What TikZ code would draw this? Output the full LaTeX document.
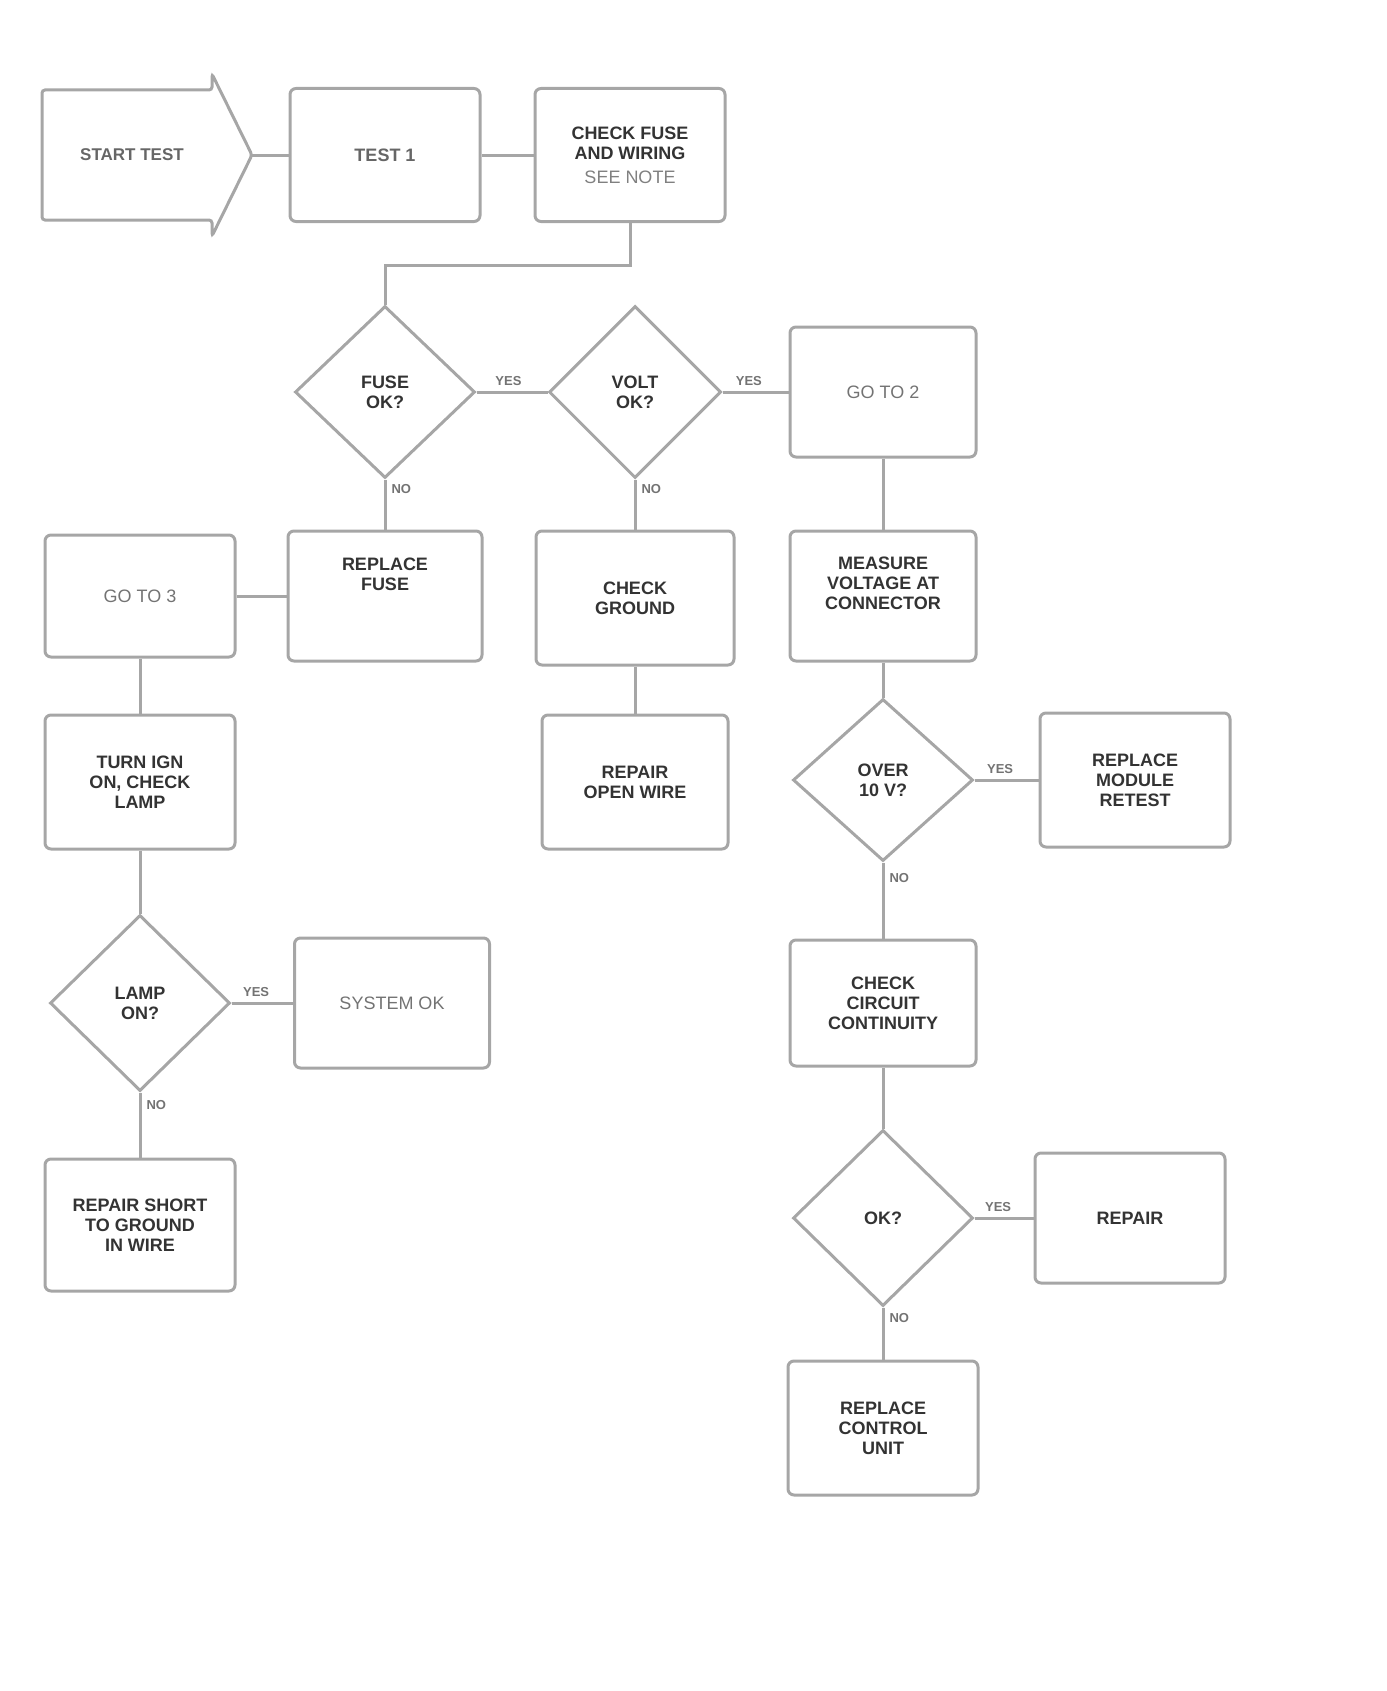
\documentclass[tikz,border=0pt]{standalone}
\usepackage{fontspec}
\setmainfont{Liberation Sans}
\usetikzlibrary{shapes.geometric}
\tikzset{
  flowbox/.style={draw=black!35, line width=3pt, rounded corners=6pt, align=center,
    inner sep=4pt, text=black!80, font=\fontsize{18}{20}\selectfont\bfseries},
  flowdia/.style={draw=black!35, line width=3pt, diamond, align=center, inner sep=0pt,
    text=black!80, font=\fontsize{18}{20}\selectfont\bfseries},
  flowline/.style={draw=black!35, line width=3pt},
  ans/.style={font=\fontsize{13}{15}\selectfont\bfseries, text=black!55, inner sep=1pt}
}
\begin{document}
\begin{tikzpicture}[x=1pt,y=-1pt]
\useasboundingbox (0,0) rectangle (1386,1691);
% start arrow shape
\draw[flowline, rounded corners=3pt] (42,90) -- (212,90) -- (212,74) -- (252,155) -- (212,236) -- (212,220) -- (42,220) -- cycle;
\node[text=black!60, font=\fontsize{17}{19}\selectfont\bfseries] (A) at (132,155) {START TEST};
\coordinate (Atip) at (252,155);
% row 1
\node[flowbox, minimum width=190pt, minimum height=133pt] (B) at (385,155) {\color{black!60}TEST 1};
\node[flowbox, minimum width=190pt, minimum height=133pt] (C) at (630,155) {CHECK FUSE\\AND WIRING\\[4pt]\mdseries\color{black!50}SEE NOTE};
% row 2
\node[flowdia, minimum width=180pt, minimum height=172pt] (D1) at (385,392) {FUSE\\OK?};
\node[flowdia, minimum width=172pt, minimum height=172pt] (D2) at (635,392) {VOLT\\OK?};
\node[flowbox, minimum width=186pt, minimum height=130pt] (E) at (883,392) {\mdseries\color{black!55}GO TO 2};
% row 3
\node[flowbox, minimum width=190pt, minimum height=122pt] (F) at (140,596) {\mdseries\color{black!55}GO TO 3};
\node[flowbox, minimum width=194pt, minimum height=130pt] (G) at (385,596) {REPLACE\\FUSE\\[24pt]};
\node[flowbox, minimum width=198pt, minimum height=134pt] (H) at (635,598) {CHECK\\GROUND};
\node[flowbox, minimum width=186pt, minimum height=130pt] (I) at (883,596) {MEASURE\\VOLTAGE AT\\CONNECTOR\\[6pt]};
% row 4
\node[flowbox, minimum width=190pt, minimum height=134pt] (J) at (140,782) {TURN IGN\\ON, CHECK\\LAMP};
\node[flowbox, minimum width=186pt, minimum height=134pt] (K) at (635,782) {REPAIR\\OPEN WIRE};
\node[flowdia, minimum width=180pt, minimum height=162pt] (D3) at (883,780) {OVER\\10 V?};
\node[flowbox, minimum width=190pt, minimum height=134pt] (L) at (1135,780) {REPLACE\\MODULE\\RETEST};
% row 5
\node[flowdia, minimum width=180pt, minimum height=176pt] (D4) at (140,1003) {LAMP\\ON?};
\node[flowbox, minimum width=195pt, minimum height=130pt] (M) at (392,1003) {\mdseries\color{black!55}SYSTEM OK};
\node[flowbox, minimum width=186pt, minimum height=126pt] (N) at (883,1003) {CHECK\\CIRCUIT\\CONTINUITY};
% row 6
\node[flowbox, minimum width=190pt, minimum height=132pt] (O) at (140,1225) {REPAIR SHORT\\TO GROUND\\IN WIRE};
\node[flowdia, minimum width=180pt, minimum height=176pt] (D5) at (883,1218) {OK?};
\node[flowbox, minimum width=190pt, minimum height=130pt] (P) at (1130,1218) {REPAIR};
% row 7
\node[flowbox, minimum width=190pt, minimum height=134pt] (Q) at (883,1428) {REPLACE\\CONTROL\\UNIT};
% connectors
\draw[flowline] (Atip) -- (B.west);
\draw[flowline] (B.east) -- (C.west);
\coordinate (c1) at (630,265);
\coordinate (c2) at (385,265);
\draw[flowline] (C.south) -- (c1) -- (c2) -- (D1.north);
\draw[flowline] (D1.east) -- node[ans, above=4pt, pos=0.45] (y1) {YES} (D2.west);
\draw[flowline] (D2.east) -- node[ans, above=4pt, pos=0.4] (y2) {YES} (E.west);
\draw[flowline] (D1.south) -- node[ans, right=4pt, pos=0.2] (n1) {NO} (G.north);
\draw[flowline] (D2.south) -- node[ans, right=4pt, pos=0.2] (n2) {NO} (H.north);
\draw[flowline] (E.south) -- (I.north);
\draw[flowline] (F.east) -- (G.west);
\draw[flowline] (F.south) -- (J.north);
\draw[flowline] (H.south) -- (K.north);
\draw[flowline] (I.south) -- (D3.north);
\draw[flowline] (D3.east) -- node[ans, above=4pt, pos=0.4] (y3) {YES} (L.west);
\draw[flowline] (D3.south) -- node[ans, right=4pt, pos=0.2] (n3) {NO} (N.north);
\draw[flowline] (J.south) -- (D4.north);
\draw[flowline] (D4.east) -- node[ans, above=4pt, pos=0.4] (y4) {YES} (M.west);
\draw[flowline] (D4.south) -- node[ans, right=4pt, pos=0.2] (n4) {NO} (O.north);
\draw[flowline] (N.south) -- (D5.north);
\draw[flowline] (D5.east) -- node[ans, above=4pt, pos=0.4] (y5) {YES} (P.west);
\draw[flowline] (D5.south) -- node[ans, right=4pt, pos=0.2] (n5) {NO} (Q.north);
\end{tikzpicture}
\end{document}
